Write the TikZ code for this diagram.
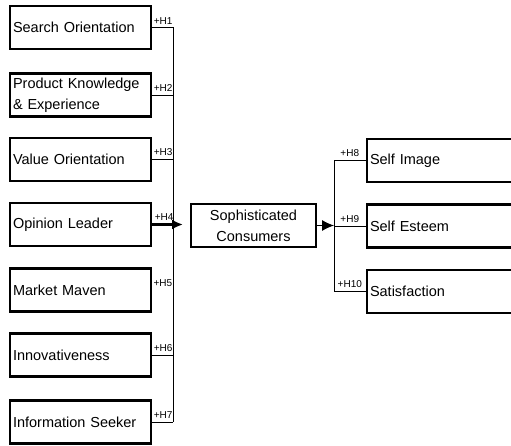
\documentclass[tikz,border=0pt]{standalone}
\usepackage{fontspec}
\setmainfont{Liberation Sans}
\usetikzlibrary{arrows.meta}

\begin{document}
\begin{tikzpicture}[>=latex, x=1pt, y=-1pt,
  factor/.style={draw, line width=2.8pt, rectangle, minimum width=141pt, minimum height=43pt, text width=135pt, align=left, inner xsep=3pt, font=\fontsize{14.5}{21}\selectfont},
  outcome/.style={factor, minimum width=150pt, text width=144pt},
  core/.style={draw, line width=2pt, rectangle, minimum width=125pt, minimum height=43pt, align=center, font=\fontsize{14.5}{21}\selectfont},
  hyp/.style={inner sep=1pt, yshift=2pt, font=\fontsize{10}{11}\selectfont},
  link/.style={line width=0.9pt}]
\useasboundingbox (0,0) rectangle (511,446);

% antecedents
\node[factor] (search) at (80.5,27.5) {Search Orientation};
\node[factor] (product) at (80.5,95) {Product Knowledge\\\& Experience};
\node[factor] (value) at (80.5,159.5) {Value Orientation};
\node[factor] (opinion) at (80.5,224.5) {Opinion Leader};
\node[factor] (maven) at (80.5,290) {Market Maven};
\node[factor] (innov) at (80.5,355) {Innovativeness};
\node[factor] (seeker) at (80.5,422) {Information Seeker};

\node[core] (soph) at (253.5,225.5) {Sophisticated\\Consumers};

% consequences
\node[outcome] (image) at (442,160.5) {Self Image};
\node[outcome] (esteem) at (442,226) {Self Esteem};
\node[outcome] (satis) at (442,291.5) {Satisfaction};

\coordinate (ltop) at (173,27.5);
\coordinate (lbot) at (173,422);
\coordinate (rtop) at (334,160.5);
\coordinate (rbot) at (334,291.5);

\draw[link] (ltop) -- (lbot);
\draw[link] (search.east) -- node[pos=0, above right, hyp] {+H1} (search.east -| ltop);
\draw[link] (product.east) -- node[pos=0, above right, hyp] {+H2} (product.east -| ltop);
\draw[link] (value.east) -- node[pos=0, above right, hyp] {+H3} (value.east -| ltop);
\draw[-{Latex[length=11pt,width=10pt]}, line width=2.8pt, shorten >=7pt] (opinion.east) -- node[pos=0, above right, hyp] {+H4} (opinion.east -| soph.west);
\node[above right, hyp] (h5) at (maven.east) {+H5};
\draw[link] (innov.east) -- node[pos=0, above right, hyp] {+H6} (innov.east -| ltop);
\draw[link] (seeker.east) -- node[pos=0, above right, hyp] {+H7} (seeker.east -| ltop);

\draw[link, -{Latex[length=12pt,width=11pt]}] (soph.east) -- (soph.east -| rtop);
\draw[link] (rtop) -- (rbot);
\draw[link] (rtop) -- node[above, hyp] {+H8} (image.west);
\draw[link] (esteem.west -| rtop) -- node[above, hyp] {+H9} (esteem.west);
\draw[link] (rbot) -- node[above, hyp] {+H10} (satis.west);
\end{tikzpicture}
\end{document}
